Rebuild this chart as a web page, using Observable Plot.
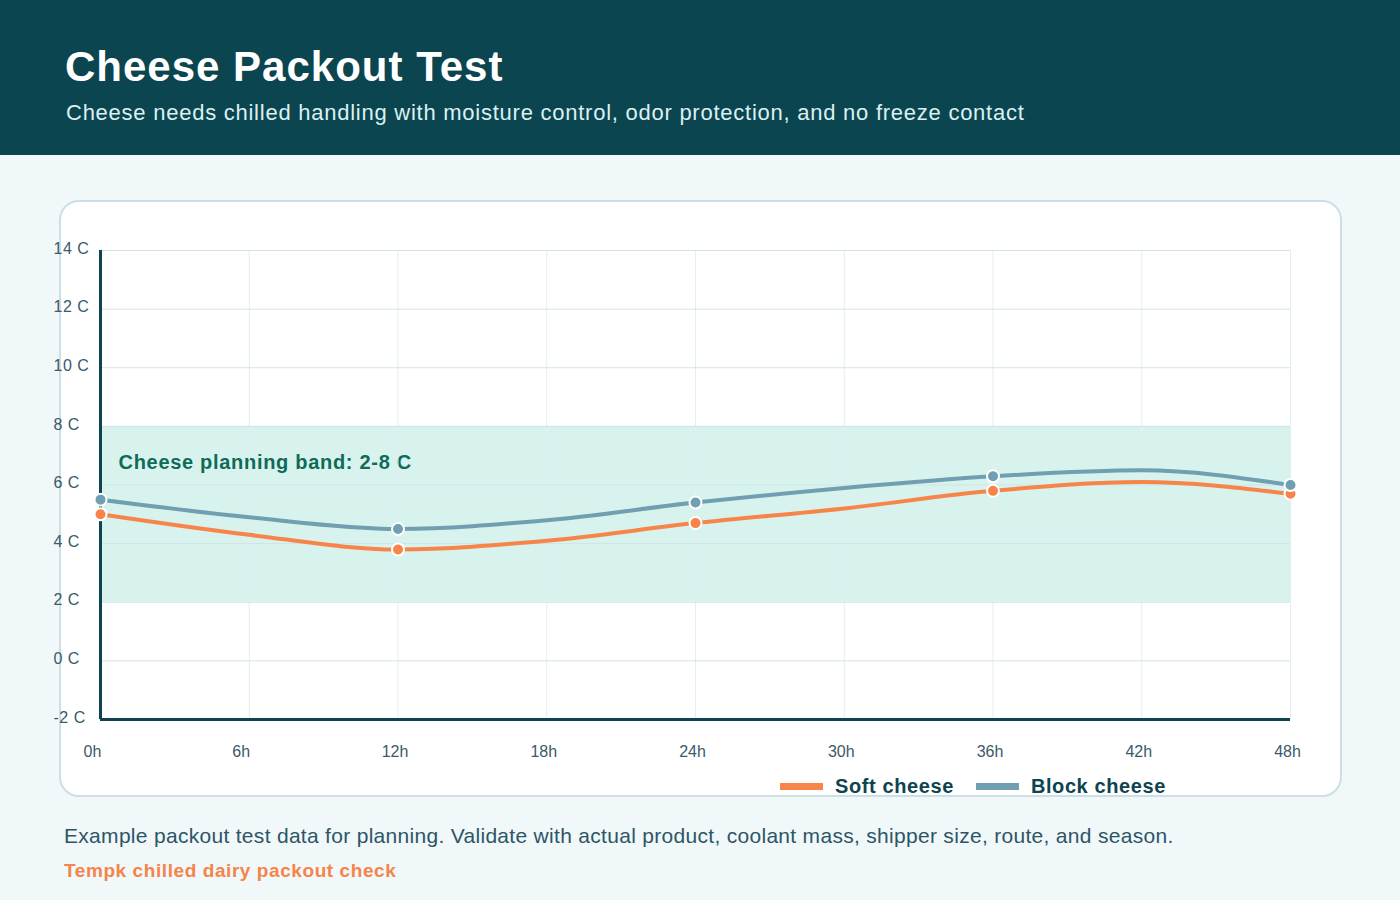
<!DOCTYPE html>
<html>
<head>
<meta charset="utf-8">
<script src="https://cdn.jsdelivr.net/npm/d3@7"></script>
<script src="https://cdn.jsdelivr.net/npm/@observablehq/plot@0.6"></script>
<style>
  html, body { margin: 0; padding: 0; }
  body { width: 1400px; height: 900px; background: #f0f8f9; font-family: "Liberation Sans", Arial, sans-serif; position: relative; overflow: hidden; }
  #header { position: absolute; left: 0; top: 0; width: 1400px; height: 155px; background: #0b4550; }
  #title { position: absolute; left: 65px; top: 46px; font-size: 42px; font-weight: bold; color: #ffffff; line-height: 1; letter-spacing: 1px; }
  #subtitle { position: absolute; left: 66px; top: 100px; font-size: 22px; color: #dcf0f2; line-height: 1.2; letter-spacing: 0.75px; }
  #card { position: absolute; left: 59px; top: 200px; width: 1279px; height: 593px; background: #ffffff; border: 2px solid #cbdfe5; border-radius: 20px; }
  #chart { position: absolute; left: 0; top: 201px; }
  #legend { position: absolute; top: 774px; left: 780px; display: flex; align-items: center; font-size: 20px; font-weight: bold; color: #0d4450; letter-spacing: 0.6px; height: 24px; }
  .sw { display: inline-block; width: 43px; height: 7px; margin-right: 12px; }
  .item { display: flex; align-items: center; margin-right: 22px; }
  #note { position: absolute; left: 64px; top: 824px; font-size: 21px; color: #2e5566; letter-spacing: 0.3px; }
  #brand { position: absolute; left: 64px; top: 860px; font-size: 19px; font-weight: bold; color: #f5844a; letter-spacing: 0.58px; }
</style>
</head>
<body>
<div id="header">
  <div id="title">Cheese Packout Test</div>
  <div id="subtitle">Cheese needs chilled handling with moisture control, odor protection, and no freeze contact</div>
</div>
<div id="card"></div>
<div id="chart"></div>
<div id="legend"></div>
<div id="note">Example packout test data for planning. Validate with actual product, coolant mass, shipper size, route, and season.</div>
<div id="brand">Tempk chilled dairy packout check</div>
<script>
const hours = [0, 6, 12, 18, 24, 30, 36, 42, 48];
const softCheese = [5.0, 4.3, 3.8, 4.1, 4.7, 5.2, 5.8, 6.1, 5.7];
const blockCheese = [5.5, 4.9, 4.5, 4.8, 5.4, 5.9, 6.3, 6.5, 6.0];
const markerHours = [0, 12, 24, 36, 48];
const seriesNames = ["Soft cheese", "Block cheese"];
const seriesColors = ["#f7854a", "#6f9fb0"];
const bandLow = 2, bandHigh = 8;
const bandLabel = "Cheese planning band: 2-8 C";
const yTicks = [-2, 0, 2, 4, 6, 8, 10, 12, 14];
const xTicks = [0, 6, 12, 18, 24, 30, 36, 42, 48];

const rows = [];
hours.forEach((h, i) => {
  rows.push({hour: h, temp: softCheese[i], series: seriesNames[0]});
  rows.push({hour: h, temp: blockCheese[i], series: seriesNames[1]});
});
const markers = rows.filter(d => markerHours.includes(d.hour));
const colorOf = s => seriesColors[seriesNames.indexOf(s)];
const shortTicks = xTicks.filter(d => d < 10);
const longTicks = xTicks.filter(d => d >= 10);
const xAxisStyle = {tickSize: 0, tickPadding: 26, fontSize: 16, fill: "#3b5a6a", tickFormat: d => `${d}h`, label: null};

const chart = Plot.plot({
  width: 1400,
  height: 595,
  marginLeft: 100,
  marginRight: 110,
  marginTop: 49,
  marginBottom: 77,
  style: {fontFamily: "'Liberation Sans', Arial, sans-serif", background: "transparent", overflow: "visible"},
  x: {domain: [0, 48]},
  y: {domain: [-2, 14]},
  marks: [
    Plot.rect([{lo: bandLow, hi: bandHigh}], {x1: 0, x2: 48, y1: "lo", y2: "hi", fill: "#d8f3ee"}),
    Plot.text([bandLabel], {x: 0, y: bandHigh, text: d => d, textAnchor: "start", dx: 18, dy: 36, fontSize: 20, fontWeight: "bold", fill: "#0f6b58"}),
    Plot.gridX(xTicks, {stroke: "#e2eef0", strokeOpacity: 1}),
    Plot.gridY(yTicks, {stroke: "#cfe3e8", strokeOpacity: 1}),
    Plot.ruleX([0], {stroke: "#0d4450", strokeWidth: 3}),
    Plot.ruleY([-2], {stroke: "#0d4450", strokeWidth: 3}),
    Plot.line(rows, {x: "hour", y: "temp", z: "series", stroke: d => colorOf(d.series), strokeWidth: 4, curve: "monotone-x"}),
    Plot.dot(markers, {x: "hour", y: "temp", r: 6, fill: d => colorOf(d.series), stroke: "#ffffff", strokeWidth: 2}),
    Plot.axisY(yTicks, {tickSize: 0, tickPadding: 47, textAnchor: "start", dy: -2, fontSize: 16, fill: "#3b5a6a", tickFormat: d => `${d} C`, label: null}),
    Plot.axisX(shortTicks, {...xAxisStyle, dx: -8}),
    Plot.axisX(longTicks, {...xAxisStyle, dx: -3})
  ]
});
document.getElementById("chart").appendChild(chart);
chart.querySelectorAll("text").forEach(t => {
  if (t.textContent === bandLabel) t.setAttribute("letter-spacing", "0.7");
  else if (/ C$/.test(t.textContent)) t.setAttribute("letter-spacing", "0.5");
});

const legend = document.getElementById("legend");
seriesNames.forEach((name, i) => {
  const item = document.createElement("div");
  item.className = "item";
  const sw = document.createElement("span");
  sw.className = "sw";
  sw.style.background = seriesColors[i];
  item.appendChild(sw);
  item.appendChild(document.createTextNode(name));
  legend.appendChild(item);
});
</script>
</body>
</html>
